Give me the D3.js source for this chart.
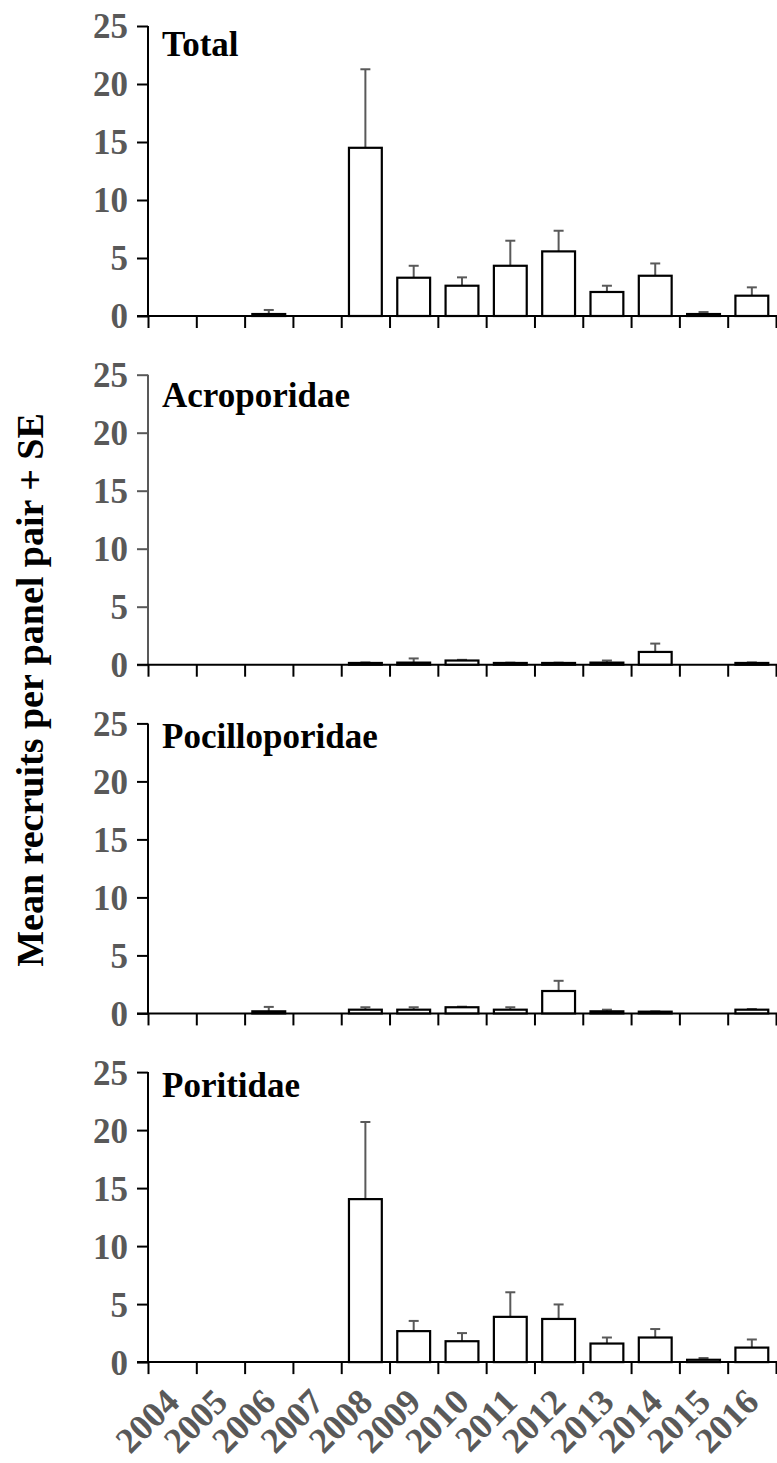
<!DOCTYPE html>
<html>
<head>
<meta charset="utf-8">
<script src="https://cdn.jsdelivr.net/npm/d3@7"></script>
<style>
  html, body { margin: 0; padding: 0; background: #fff; }
  svg { display: block; }
</style>
</head>
<body>
<svg id="chart" width="777" height="1463"></svg>
<script>
// ---------------- data ----------------
const years = ["2004","2005","2006","2007","2008","2009","2010","2011","2012","2013","2014","2015","2016"];
const yTicks = [0, 5, 10, 15, 20, 25];
const panelLabels = ["Total", "Acroporidae", "Pocilloporidae", "Poritidae"];

const totalMean = [0, 0, 0.17, 0, 14.5, 3.3, 2.61, 4.33, 5.57, 2.07, 3.47, 0.17, 1.75];
const totalSE   = [0, 0, 0.35, 0, 6.77, 1.03, 0.72, 2.16, 1.78, 0.54, 1.06, 0.17, 0.72];

const acroMean  = [0, 0, 0, 0, 0.15, 0.18, 0.36, 0.15, 0.15, 0.18, 1.10, 0, 0.15];
const acroSE    = [0, 0, 0, 0, 0.05, 0.36, 0.06, 0.03, 0.03, 0.18, 0.72, 0, 0.05];

const pociMean  = [0, 0, 0.18, 0, 0.32, 0.32, 0.53, 0.32, 1.93, 0.18, 0.15, 0, 0.32];
const pociSE    = [0, 0, 0.38, 0, 0.21, 0.21, 0.05, 0.21, 0.88, 0.14, 0.03, 0, 0.06];

const poriMean  = [0, 0, 0, 0, 14.05, 2.67, 1.80, 3.90, 3.72, 1.60, 2.12, 0.20, 1.25];
const poriSE    = [0, 0, 0, 0, 6.65, 0.88, 0.70, 2.12, 1.25, 0.52, 0.73, 0.15, 0.70];

const yAxisTitle = "Mean recruits per panel pair + SE";

// ---------------- layout ----------------
const means = [totalMean, acroMean, pociMean, poriMean];
const ses   = [totalSE, acroSE, pociSE, poriSE];
const labelDy = [30, 32, 25, 25];
const axisColors = ["#000", "#595959", "#000", "#000"];

const W = 777, H = 1463;
const left = 148, right = 776;
const firstTop = 26, panelH = 290, panelStep = 348.7;
const gray = "#595959";
const FONT = '"Liberation Serif"';

const svg = d3.select("#chart");

function serif(sel, size) {
  return sel.style("font-family", FONT).style("font-weight", "bold").style("font-size", size + "px");
}

const x = d3.scaleBand().domain(years).range([left, right]).paddingInner(0.32).paddingOuter(0.16);
const xEdges = d3.scaleLinear().domain([0, years.length]).range([left, right]);

panelLabels.forEach((label, p) => {
  const top = firstTop + p * panelStep;
  const y = d3.scaleLinear().domain([0, 25]).range([top + panelH, top]);
  const g = svg.append("g");

  // y axis
  const yAxis = d3.axisLeft(y).tickValues(yTicks).tickSize(11).tickSizeOuter(0).tickPadding(9);
  const ya = g.append("g").attr("transform", `translate(${left},0)`).call(yAxis);
  ya.select(".domain").attr("stroke", axisColors[p]).attr("stroke-width", 2)
    .attr("d", `M0,${y(25)}V${y(0)}`);
  ya.selectAll(".tick line").attr("stroke", axisColors[p]).attr("stroke-width", 2);
  serif(ya.selectAll(".tick text"), 35).attr("fill", gray).attr("dy", "0.34em");

  // x axis (ticks at band boundaries)
  const xAxis = d3.axisBottom(xEdges).tickValues(d3.range(years.length + 1)).tickFormat("").tickSize(12).tickSizeOuter(0);
  const xa = g.append("g").attr("transform", `translate(0,${y(0)})`).call(xAxis);
  xa.select(".domain").attr("stroke", "#000").attr("stroke-width", 2)
    .attr("d", `M${left - 11},0H${W}`);
  xa.selectAll(".tick line").attr("stroke", "#000").attr("stroke-width", 2);

  const data = years.map((yr, i) => ({ yr, m: means[p][i], se: ses[p][i] }));
  const nz = data.filter(d => d.m > 0);

  // error bars (+SE only)
  const capW = 10;
  const eb = g.append("g");
  eb.selectAll("line.v").data(nz).join("line")
    .attr("x1", d => x(d.yr) + x.bandwidth() / 2)
    .attr("x2", d => x(d.yr) + x.bandwidth() / 2)
    .attr("y1", d => y(d.m))
    .attr("y2", d => y(d.m + d.se))
    .attr("stroke", gray).attr("stroke-width", 2);
  eb.selectAll("line.c").data(nz).join("line")
    .attr("x1", d => x(d.yr) + x.bandwidth() / 2 - capW / 2)
    .attr("x2", d => x(d.yr) + x.bandwidth() / 2 + capW / 2)
    .attr("y1", d => y(d.m + d.se))
    .attr("y2", d => y(d.m + d.se))
    .attr("stroke", gray).attr("stroke-width", 2);

  // bars
  g.append("g").selectAll("rect").data(nz).join("rect")
    .attr("x", d => x(d.yr))
    .attr("y", d => y(d.m))
    .attr("width", x.bandwidth())
    .attr("height", d => y(0) - y(d.m))
    .attr("fill", "#fff")
    .attr("stroke", "#000").attr("stroke-width", 2.2);

  // panel label
  serif(g.append("text"), 35)
    .attr("x", 162).attr("y", top + labelDy[p])
    .attr("fill", "#000")
    .text(label);

  // year labels on the bottom panel
  if (p === panelLabels.length - 1) {
    serif(g.append("g").selectAll("text").data(years).join("text"), 36)
      .attr("transform", d => `translate(${x(d) + x.bandwidth() / 2 + 9},${y(0) + 42}) rotate(-45)`)
      .attr("text-anchor", "end")
      .attr("fill", gray)
      .text(d => d);
  }
});

// y axis title
serif(svg.append("text"), 38)
  .attr("transform", `translate(43,690) rotate(-90)`)
  .attr("text-anchor", "middle")
  .attr("fill", "#000")
  .text(yAxisTitle);
</script>
</body>
</html>
